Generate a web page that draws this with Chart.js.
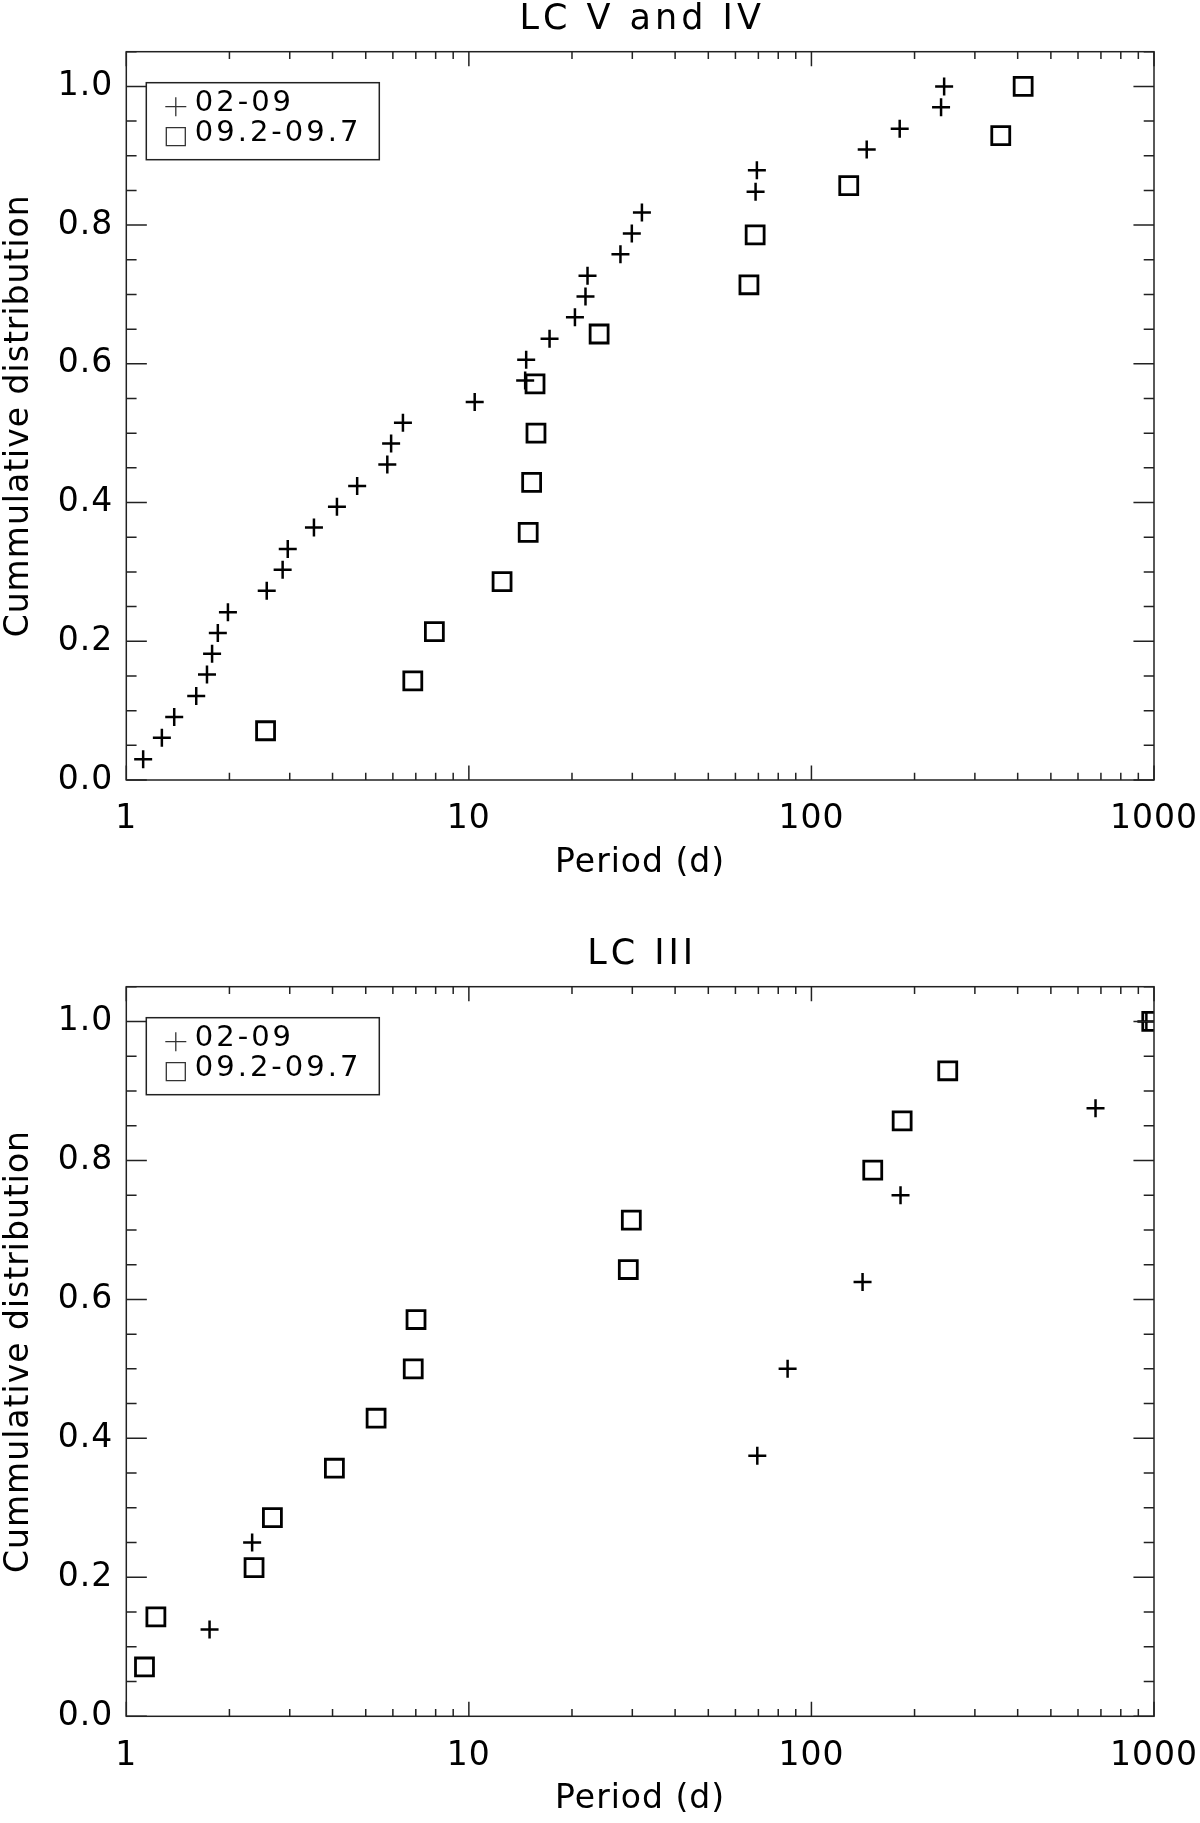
<!DOCTYPE html>
<html>
<head>
<meta charset="utf-8">
<script src="https://cdn.jsdelivr.net/npm/chart.js@4.4.0/dist/chart.umd.min.js"></script>
<style>
    html, body { margin: 0; padding: 0; background: #fff; }
    #wrap { position: relative; width: 1200px; height: 1823px; overflow: hidden; }
    canvas { position: absolute; left: 0; }
    #chartTop { top: 0; }
    #chartBottom { top: 935px; }
</style>
</head>
<body>
<div id="wrap">
    <canvas id="chartTop" width="1200" height="935"></canvas>
    <canvas id="chartBottom" width="1200" height="888"></canvas>
</div>
<script>
const seriesLabels = ['02-09', '09.2-09.7'];
const xTicks = [1, 10, 100, 1000];
const yTicks = [0, 0.2, 0.4, 0.6, 0.8, 1.0];

// LC V and IV
const lcVPlusPeriod = [1.12, 1.27, 1.38, 1.60, 1.72, 1.78, 1.85, 1.98, 2.57, 2.86, 2.96, 3.53, 4.12,
    4.72, 5.78, 5.93, 6.42, 10.4, 14.6, 14.7, 17.2, 20.4, 21.9, 22.2, 27.7, 29.9, 32.0, 68.7, 69.3,
    145, 181, 239, 244];
const lcVPlusCum = [0.030, 0.061, 0.091, 0.121, 0.152, 0.182, 0.212, 0.242, 0.273, 0.303, 0.333,
    0.364, 0.394, 0.424, 0.455, 0.485, 0.515, 0.545, 0.576, 0.606, 0.636, 0.667, 0.697, 0.727,
    0.758, 0.788, 0.818, 0.848, 0.879, 0.909, 0.939, 0.970, 1.000];
const lcVSquarePeriod = [2.55, 6.86, 7.93, 12.5, 14.9, 15.25, 15.7, 15.6, 24.0, 65.7, 68.5, 128.5, 357, 415];
const lcVSquareCum = [0.071, 0.143, 0.214, 0.286, 0.357, 0.429, 0.500, 0.571, 0.643, 0.714, 0.786,
    0.857, 0.929, 1.000];

// LC III
const lcIIIPlusPeriod = [1.75, 2.33, 69.5, 85.2, 141, 182, 675, 950];
const lcIIIPlusCum = [0.125, 0.250, 0.375, 0.500, 0.625, 0.750, 0.875, 1.000];
const lcIIISquarePeriod = [1.13, 1.22, 2.36, 2.67, 4.05, 5.36, 6.88, 7.01, 29.2, 29.8, 151, 184, 250, 985];
const lcIIISquareCum = [0.071, 0.143, 0.214, 0.286, 0.357, 0.429, 0.500, 0.571, 0.643, 0.714, 0.786,
    0.857, 0.929, 1.000];

const FONT = 'DejaVu Sans';
Chart.defaults.font.family = FONT;
Chart.defaults.color = '#000';

// frame, inward ticks on all four sides, title and the boxed legend (IDL style)
const idlFrame = {
    id: 'idlFrame',
    beforeUpdate(chart) {
        chart.ctx.letterSpacing = '1px';
    },
    beforeDraw(chart) {
        chart.ctx.letterSpacing = '1px';
    },
    afterDatasetsDraw(chart, args, opts) {
        const { ctx, chartArea: a, scales: { x, y } } = chart;
        const xMajor = a.height * 0.02;
        const yMajor = a.width * 0.02;
        ctx.save();
        ctx.strokeStyle = '#222';
        ctx.lineWidth = 1.5;
        ctx.strokeRect(a.left, a.top, a.width, a.height);

        ctx.beginPath();
        xTicks.forEach(dec => {
            for (let m = 1; m < 10; m++) {
                const v = dec * m;
                if (v > x.max) break;
                const px = x.getPixelForValue(v);
                const len = m === 1 ? xMajor : xMajor / 2;
                ctx.moveTo(px, a.bottom); ctx.lineTo(px, a.bottom - len);
                ctx.moveTo(px, a.top); ctx.lineTo(px, a.top + len);
            }
        });
        for (let k = 0; k * 0.05 <= y.max + 1e-9; k++) {
            const py = y.getPixelForValue(k * 0.05);
            const len = k % 4 === 0 ? yMajor : yMajor / 2;
            ctx.moveTo(a.left, py); ctx.lineTo(a.left + len, py);
            ctx.moveTo(a.right, py); ctx.lineTo(a.right - len, py);
        }
        ctx.stroke();

        // title
        ctx.fillStyle = '#000';
        ctx.font = '35px "' + FONT + '"';
        ctx.letterSpacing = '4px';
        ctx.textAlign = 'center';
        ctx.textBaseline = 'middle';
        ctx.fillText(opts.title, (a.left + a.right) / 2 + 2, 20);

        // legend box
        const bx = a.left + 20, by = a.top + 31, bw = 233, bh = 77;
        ctx.fillStyle = '#fff';
        ctx.fillRect(bx, by, bw, bh);
        ctx.strokeRect(bx, by, bw, bh);
        const rows = [21, 51];
        chart.data.datasets.forEach((ds, i) => {
            const cx = bx + 29.5, cy = by + rows[i] + 3;
            ctx.strokeStyle = '#333';
            ctx.lineWidth = 1.3;
            ctx.beginPath();
            if (ds.pointStyle === 'cross') {
                ctx.moveTo(cx - 10.5, cy); ctx.lineTo(cx + 10.5, cy);
                ctx.moveTo(cx, cy - 9.5); ctx.lineTo(cx, cy + 9.5);
            } else {
                ctx.rect(cx - 9.5, cy - 9, 19, 18);
            }
            ctx.stroke();
            ctx.fillStyle = '#000';
            ctx.font = '29px "' + FONT + '"';
            ctx.letterSpacing = '3px';
            ctx.textBaseline = 'middle';
            ctx.textAlign = 'left';
            ctx.fillText(ds.label, bx + 48.5, by + rows[i]);
        });
        ctx.restore();
    }
};

function makePanel(canvasId, title, plusX, plusY, sqX, sqY, bottomPad) {
    const ctx = document.getElementById(canvasId).getContext('2d');
    return new Chart(ctx, {
        type: 'scatter',
        data: {
            datasets: [{
                label: seriesLabels[0],
                data: plusX.map((p, i) => ({ x: p, y: plusY[i] })),
                pointStyle: 'cross',
                pointRadius: 9,
                pointBorderWidth: 2.5,
                borderColor: '#000',
                backgroundColor: '#000',
                showLine: false
            }, {
                label: seriesLabels[1],
                data: sqX.map((p, i) => ({ x: p, y: sqY[i] })),
                pointStyle: 'rect',
                pointRadius: 12.7,
                pointBorderWidth: 2.8,
                borderColor: '#000',
                backgroundColor: 'rgba(0,0,0,0)',
                showLine: false
            }]
        },
        options: {
            responsive: false,
            animation: false,
            devicePixelRatio: 1,
            layout: { padding: { left: 0, right: 46, top: 51.7, bottom: bottomPad } },
            plugins: {
                legend: { display: false },
                tooltip: { enabled: false },
                title: { display: false },
                idlFrame: { title: title }
            },
            scales: {
                x: {
                    type: 'logarithmic',
                    min: 1,
                    max: 1000,
                    grid: { display: false, drawTicks: false },
                    border: { display: false },
                    afterBuildTicks: s => { s.ticks = xTicks.map(v => ({ value: v })); },
                    afterFit: s => { s.height = 106.7; s.paddingRight = 0; s.paddingLeft = 0; },
                    ticks: {
                        autoSkip: false,
                        maxRotation: 0,
                        padding: 20,
                        color: '#000',
                        font: { family: FONT, size: 33 },
                        callback: v => String(v)
                    },
                    title: {
                        display: true,
                        text: 'Period (d)',
                        color: '#000',
                        font: { family: FONT, size: 33 },
                        padding: { top: 0, bottom: 3.9 }
                    }
                },
                y: {
                    min: 0,
                    max: 1.05,
                    grid: { display: false, drawTicks: false },
                    border: { display: false },
                    afterBuildTicks: s => { s.ticks = yTicks.map(v => ({ value: v })); },
                    afterFit: s => { s.width = 126.3; },
                    ticks: {
                        autoSkip: false,
                        padding: 13,
                        color: '#000',
                        font: { family: FONT, size: 33 },
                        callback: v => Number(v).toFixed(1)
                    },
                    title: {
                        display: true,
                        text: 'Cummulative distribution',
                        color: '#000',
                        font: { family: FONT, size: 33 },
                        padding: { top: 0, bottom: 0 }
                    }
                }
            }
        },
        plugins: [idlFrame]
    });
}

makePanel('chartTop', 'LC V and IV', lcVPlusPeriod, lcVPlusCum, lcVSquarePeriod, lcVSquareCum, 48.3);
makePanel('chartBottom', 'LC III', lcIIIPlusPeriod, lcIIIPlusCum, lcIIISquarePeriod, lcIIISquareCum, 0);
</script>
</body>
</html>
